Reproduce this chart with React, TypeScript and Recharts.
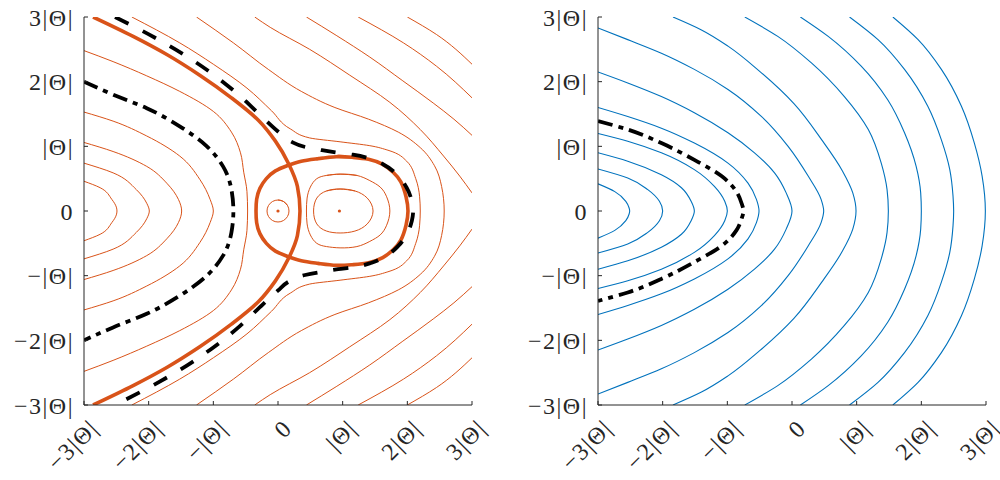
import React from 'react';
import { LineChart, Line, XAxis, YAxis, ReferenceDot } from 'recharts';

type Pt = [number, number];

const ORANGE = '#D95319';
const BLUE = '#0072BD';
const AXIS = '#262626';
const FONT = '"Liberation Serif", serif';

const tickValues = [-3, -2, -1, 0, 1, 2, 3];
const tickLabels = ['−3|Θ|', '−2|Θ|', '−|Θ|', '0', '|Θ|', '2|Θ|', '3|Θ|'];

// left panel, thin orange contours (units of |Θ|)
const leftC1: Pt[] = [[-3.0, 0.46], [-2.75, 0.36], [-2.57, 0.18], [-2.5, 0.06], [-2.49, 0], [-2.5, -0.06], [-2.57, -0.18], [-2.75, -0.36], [-3.0, -0.46]];
const leftC2: Pt[] = [[-3.0, 0.74], [-2.55, 0.59], [-2.19, 0.33], [-2.03, 0.12], [-1.99, 0], [-2.03, -0.12], [-2.19, -0.33], [-2.55, -0.59], [-3.0, -0.74]];
const leftC3: Pt[] = [[-3.0, 1.06], [-2.55, 0.92], [-2.03, 0.69], [-1.72, 0.43], [-1.54, 0.18], [-1.49, 0], [-1.54, -0.18], [-1.72, -0.43], [-2.03, -0.69], [-2.55, -0.92], [-3.0, -1.06]];
const leftC4: Pt[] = [[-3.0, 1.53], [-2.55, 1.39], [-2.03, 1.16], [-1.52, 0.85], [-1.21, 0.49], [-1.05, 0.18], [-1.0, 0], [-1.05, -0.18], [-1.21, -0.49], [-1.52, -0.85], [-2.03, -1.16], [-2.55, -1.39], [-3.0, -1.53]];
const leftC6: Pt[] = [[-3.0, 2.48], [-2.55, 2.31], [-2.03, 2.09], [-1.52, 1.85], [-1.0, 1.54], [-0.72, 1.22], [-0.58, 0.9], [-0.53, 0.6], [-0.48, 0.3], [-0.47, 0], [-0.48, -0.3], [-0.53, -0.6], [-0.58, -0.9], [-0.72, -1.22], [-1.0, -1.54], [-1.52, -1.85], [-2.03, -2.09], [-2.55, -2.31], [-3.0, -2.48]];
const leftC9: Pt[] = [[-2.26, 3.0], [-1.52, 2.6], [-1.0, 2.27], [-0.48, 1.9], [-0.1, 1.55], [0.19, 1.27], [0.49, 1.13], [0.96, 1.07], [1.42, 1.01], [1.7, 0.94], [1.99, 0.77], [2.13, 0.5], [2.19, 0.22], [2.2, 0], [2.19, -0.22], [2.13, -0.5], [1.99, -0.77], [1.7, -0.94], [1.42, -1.01], [0.96, -1.07], [0.49, -1.13], [0.19, -1.27], [-0.1, -1.55], [-0.48, -1.9], [-1.0, -2.27], [-1.52, -2.6], [-2.26, -3.0]];
const leftC10: Pt[] = [[-1.26, 3.0], [-0.69, 2.6], [-0.15, 2.19], [0.36, 1.85], [0.88, 1.6], [1.4, 1.42], [1.86, 1.22], [2.2, 0.98], [2.42, 0.7], [2.53, 0.38], [2.57, 0], [2.53, -0.38], [2.42, -0.7], [2.2, -0.98], [1.86, -1.22], [1.4, -1.42], [0.88, -1.6], [0.36, -1.85], [-0.15, -2.19], [-0.69, -2.6], [-1.26, -3.0]];
const leftC11Top: Pt[] = [[-0.36, 3.0], [-0.12, 2.84], [0.49, 2.5], [1.11, 2.1], [1.73, 1.68], [2.2, 1.26], [2.56, 0.85], [2.81, 0.54], [3.0, 0.28]];
const leftC11Bottom: Pt[] = [[-0.36, -3.0], [-0.12, -2.84], [0.49, -2.5], [1.11, -2.1], [1.73, -1.68], [2.2, -1.26], [2.56, -0.85], [2.81, -0.54], [3.0, -0.28]];
const leftC12Top: Pt[] = [[0.44, 3.0], [0.91, 2.71], [1.42, 2.38], [1.92, 2.02], [2.4, 1.67], [2.72, 1.42], [3.0, 1.17]];
const leftC12Bottom: Pt[] = [[0.44, -3.0], [0.91, -2.71], [1.42, -2.38], [1.92, -2.02], [2.4, -1.67], [2.72, -1.42], [3.0, -1.17]];
const leftC13Top: Pt[] = [[1.24, 3.0], [1.94, 2.6], [2.45, 2.24], [3.0, 1.75]];
const leftC13Bottom: Pt[] = [[1.24, -3.0], [1.94, -2.6], [2.45, -2.24], [3.0, -1.75]];
const leftC14Top: Pt[] = [[2.0, 3.0], [2.45, 2.73], [3.0, 2.27]];
const leftC14Bottom: Pt[] = [[2.0, -3.0], [2.45, -2.73], [3.0, -2.27]];

// closed orbits (first points repeated at the end so the ring closes smoothly)
const leftSmallCircle: Pt[] = [[0, 0.17], [0.085, 0.147], [0.147, 0.085], [0.17, 0], [0.147, -0.085], [0.085, -0.147], [0, -0.17], [-0.085, -0.147], [-0.147, -0.085], [-0.17, 0], [-0.147, 0.085], [-0.085, 0.147], [0, 0.17], [0.085, 0.147], [0.147, 0.085]];
const leftIslandOuter: Pt[] = [[0.75, 0.55], [0.96, 0.57], [1.22, 0.55], [1.42, 0.47], [1.58, 0.37], [1.68, 0.22], [1.73, 0], [1.68, -0.22], [1.58, -0.37], [1.42, -0.47], [1.22, -0.55], [0.96, -0.57], [0.75, -0.55], [0.6, -0.5], [0.5, -0.37], [0.45, -0.2], [0.44, 0], [0.45, 0.2], [0.5, 0.37], [0.6, 0.5], [0.75, 0.55], [0.96, 0.57], [1.22, 0.55]];
const leftIslandInner: Pt[] = [[0.75, 0.31], [0.96, 0.34], [1.19, 0.31], [1.38, 0.2], [1.47, 0], [1.38, -0.2], [1.19, -0.31], [0.96, -0.34], [0.75, -0.31], [0.6, -0.2], [0.55, 0], [0.6, 0.2], [0.75, 0.31], [0.96, 0.34], [1.19, 0.31]];

// left panel, thick orange separatrices
const leftSeparatrix: Pt[] = [[-2.86, 3.0], [-2.24, 2.7], [-1.72, 2.42], [-1.21, 2.1], [-0.72, 1.75], [-0.3, 1.4], [-0.04, 1.08], [0.17, 0.72], [0.3, 0.38], [0.34, 0], [0.3, -0.38], [0.17, -0.72], [-0.04, -1.08], [-0.3, -1.4], [-0.72, -1.75], [-1.21, -2.1], [-1.72, -2.42], [-2.24, -2.7], [-2.86, -3.0]];
const leftLoop: Pt[] = [[0.62, 0.81], [0.9, 0.84], [1.15, 0.83], [1.4, 0.8], [1.62, 0.72], [1.78, 0.6], [1.9, 0.45], [1.98, 0.22], [2.01, 0], [1.98, -0.22], [1.9, -0.45], [1.78, -0.6], [1.62, -0.72], [1.4, -0.8], [1.15, -0.83], [0.9, -0.84], [0.62, -0.81], [0.36, -0.77], [0.14, -0.7], [-0.04, -0.62], [-0.18, -0.5], [-0.28, -0.35], [-0.33, -0.18], [-0.34, 0], [-0.33, 0.18], [-0.28, 0.35], [-0.18, 0.5], [-0.04, 0.62], [0.14, 0.7], [0.36, 0.77], [0.62, 0.81], [0.9, 0.84], [1.15, 0.83]];

// left panel, black reference curves
const leftDashed: Pt[] = [[-2.52, 3.0], [-1.85, 2.65], [-1.41, 2.39], [-1.0, 2.11], [-0.59, 1.78], [-0.23, 1.44], [0.0, 1.23], [0.19, 1.08], [0.42, 0.99], [0.68, 0.94], [0.93, 0.9], [1.16, 0.87], [1.45, 0.8], [1.63, 0.72], [1.86, 0.54], [1.99, 0.36], [2.07, 0.15], [2.09, 0], [2.07, -0.15], [1.99, -0.36], [1.86, -0.54], [1.63, -0.72], [1.45, -0.8], [1.16, -0.87], [0.93, -0.9], [0.68, -0.94], [0.42, -0.99], [0.19, -1.08], [0.0, -1.23], [-0.23, -1.44], [-0.59, -1.78], [-1.0, -2.11], [-1.41, -2.39], [-1.85, -2.65], [-2.52, -3.0]];
const leftDashDot: Pt[] = [[-3.0, 2.0], [-2.55, 1.8], [-2.03, 1.59], [-1.52, 1.31], [-1.1, 1.0], [-0.85, 0.69], [-0.72, 0.33], [-0.69, 0], [-0.72, -0.33], [-0.85, -0.69], [-1.1, -1.0], [-1.52, -1.31], [-2.03, -1.59], [-2.55, -1.8], [-3.0, -2.0]];

const leftCenters: Pt[] = [[0, 0], [0.95, 0]];

// right panel, blue contours
const rightB1: Pt[] = [[-3.0, 0.42], [-2.74, 0.3], [-2.57, 0.15], [-2.52, 0.05], [-2.51, 0], [-2.52, -0.05], [-2.57, -0.15], [-2.74, -0.3], [-3.0, -0.42]];
const rightB2: Pt[] = [[-3.0, 0.65], [-2.54, 0.51], [-2.23, 0.33], [-2.05, 0.15], [-2.0, 0], [-2.05, -0.15], [-2.23, -0.33], [-2.54, -0.51], [-3.0, -0.65]];
const rightB3: Pt[] = [[-3.0, 0.9], [-2.54, 0.77], [-2.02, 0.56], [-1.71, 0.36], [-1.56, 0.15], [-1.51, 0], [-1.56, -0.15], [-1.71, -0.36], [-2.02, -0.56], [-2.54, -0.77], [-3.0, -0.9]];
const rightB4: Pt[] = [[-3.0, 1.2], [-2.54, 1.08], [-2.02, 0.9], [-1.51, 0.64], [-1.2, 0.38], [-1.04, 0.15], [-1.0, 0], [-1.04, -0.15], [-1.2, -0.38], [-1.51, -0.64], [-2.02, -0.9], [-2.54, -1.08], [-3.0, -1.2]];
const rightB6: Pt[] = [[-3.0, 1.6], [-2.54, 1.46], [-2.02, 1.28], [-1.51, 1.05], [-0.99, 0.74], [-0.68, 0.43], [-0.55, 0.18], [-0.51, 0], [-0.55, -0.18], [-0.68, -0.43], [-0.99, -0.74], [-1.51, -1.05], [-2.02, -1.28], [-2.54, -1.46], [-3.0, -1.6]];
const rightB7: Pt[] = [[-3.0, 2.15], [-2.54, 1.98], [-2.02, 1.77], [-1.51, 1.52], [-0.99, 1.21], [-0.58, 0.9], [-0.27, 0.59], [-0.09, 0.28], [0, 0], [-0.09, -0.28], [-0.27, -0.59], [-0.58, -0.9], [-0.99, -1.21], [-1.51, -1.52], [-2.02, -1.77], [-2.54, -1.98], [-3.0, -2.15]];
const rightB8: Pt[] = [[-3.0, 2.83], [-2.54, 2.65], [-2.02, 2.44], [-1.51, 2.19], [-0.99, 1.88], [-0.47, 1.46], [-0.06, 1.0], [0.25, 0.54], [0.45, 0.18], [0.49, 0], [0.45, -0.18], [0.25, -0.54], [-0.06, -1.0], [-0.47, -1.46], [-0.99, -1.88], [-1.51, -2.19], [-2.02, -2.44], [-2.54, -2.65], [-3.0, -2.83]];
const rightB9: Pt[] = [[-1.84, 3.0], [-1.4, 2.8], [-0.99, 2.55], [-0.5, 2.16], [0.03, 1.66], [0.46, 1.1], [0.78, 0.62], [0.94, 0.28], [0.99, 0], [0.94, -0.28], [0.78, -0.62], [0.46, -1.1], [0.03, -1.66], [-0.5, -2.16], [-0.99, -2.55], [-1.4, -2.8], [-1.84, -3.0]];
const rightB10: Pt[] = [[-0.73, 3.0], [-0.22, 2.7], [0.3, 2.29], [0.81, 1.77], [1.18, 1.26], [1.38, 0.74], [1.47, 0.33], [1.49, 0], [1.47, -0.33], [1.38, -0.74], [1.18, -1.26], [0.81, -1.77], [0.3, -2.29], [-0.22, -2.7], [-0.73, -3.0]];
const rightB11: Pt[] = [[0.13, 3.0], [0.56, 2.7], [1.07, 2.24], [1.48, 1.72], [1.74, 1.21], [1.92, 0.69], [1.99, 0.28], [2.0, 0], [1.99, -0.28], [1.92, -0.69], [1.74, -1.21], [1.48, -1.72], [1.07, -2.24], [0.56, -2.7], [0.13, -3.0]];
const rightB12: Pt[] = [[0.89, 3.0], [1.33, 2.65], [1.74, 2.19], [2.1, 1.62], [2.31, 1.1], [2.44, 0.64], [2.49, 0.23], [2.5, 0], [2.49, -0.23], [2.44, -0.64], [2.31, -1.1], [2.1, -1.62], [1.74, -2.19], [1.33, -2.65], [0.89, -3.0]];
const rightB13: Pt[] = [[1.56, 3.0], [1.95, 2.65], [2.31, 2.19], [2.62, 1.62], [2.82, 1.05], [2.94, 0.54], [2.99, 0], [2.94, -0.54], [2.82, -1.05], [2.62, -1.62], [2.31, -2.19], [1.95, -2.65], [1.56, -3.0]];
const rightDashDot: Pt[] = [[-3.0, 1.39], [-2.54, 1.26], [-2.02, 1.05], [-1.51, 0.79], [-1.09, 0.54], [-0.86, 0.3], [-0.78, 0.12], [-0.75, 0], [-0.78, -0.12], [-0.86, -0.3], [-1.09, -0.54], [-1.51, -0.79], [-2.02, -1.05], [-2.54, -1.26], [-3.0, -1.39]];

type CurveKind = 'monotoneY' | 'natural';

interface Curve {
  pts: Pt[];
  color: string;
  width: number;
  dash?: string;
  kind: CurveKind;
}

const thinOrange = (pts: Pt[]): Curve => ({ pts, color: ORANGE, width: 1, kind: 'monotoneY' });
const ring = (pts: Pt[]): Curve => ({ pts, color: ORANGE, width: 1, kind: 'natural' });
const thinBlue = (pts: Pt[]): Curve => ({ pts, color: BLUE, width: 1.1, kind: 'monotoneY' });

const leftCurves: Curve[] = [
  ...[leftC1, leftC2, leftC3, leftC4, leftC6, leftC9, leftC10, leftC11Top, leftC11Bottom, leftC12Top, leftC12Bottom, leftC13Top, leftC13Bottom, leftC14Top, leftC14Bottom].map(thinOrange),
  ...[leftSmallCircle, leftIslandOuter, leftIslandInner].map(ring),
  { pts: leftSeparatrix, color: ORANGE, width: 3.6, kind: 'monotoneY' },
  { pts: leftLoop, color: ORANGE, width: 3.6, kind: 'natural' },
  { pts: leftDashed, color: '#000', width: 3.8, dash: '15 16', kind: 'monotoneY' },
  { pts: leftDashDot, color: '#000', width: 3.8, dash: '15 6 5 6', kind: 'monotoneY' },
];

const rightCurves: Curve[] = [
  ...[rightB1, rightB2, rightB3, rightB4, rightB6, rightB7, rightB8, rightB9, rightB10, rightB11, rightB12, rightB13].map(thinBlue),
  { pts: rightDashDot, color: '#000', width: 3.8, dash: '15 6 5 6', kind: 'monotoneY' },
];

const toRows = (pts: Pt[]) => pts.map(([x, y]) => ({ x, y }));
const labelFor = (v: number) => tickLabels[tickValues.indexOf(v)] ?? '';

// x labels: drawn by hand, rotated like the original
const XTick = (props: any) => {
  const { x, y, payload } = props;
  const tx = x + 10;
  const ty = y + 19;
  return (
    <g>
      <line x1={x} x2={x} y1={y} y2={y - 4} stroke={AXIS} strokeWidth={1} />
      <text
        x={tx}
        y={ty}
        textAnchor="end"
        dominantBaseline="central"
        transform={`rotate(-45 ${tx} ${ty})`}
        fill={AXIS}
        fontFamily={FONT}
        fontSize={24}
        letterSpacing={1.5}
      >
        {labelFor(payload.value)}
      </text>
    </g>
  );
};

const Panel: React.FC<{ curves: Curve[]; dots?: Pt[]; left: number }> = ({ curves, dots = [], left }) => (
  <div style={{ position: 'absolute', left, top: 0 }}>
    <LineChart width={500} height={480} margin={{ top: 17, right: 28, bottom: 35, left: 24 }}>
      <XAxis
        dataKey="x"
        type="number"
        domain={[-3, 3]}
        ticks={tickValues}
        interval={0}
        allowDataOverflow
        height={40}
        tickSize={0}
        tickMargin={0}
        tickLine={false}
        axisLine={{ stroke: AXIS, strokeWidth: 1 }}
        tick={XTick}
      />
      <YAxis
        dataKey="y"
        type="number"
        domain={[-3, 3]}
        ticks={tickValues}
        interval={0}
        allowDataOverflow
        width={60}
        tickSize={-4}
        tickMargin={14}
        tickLine={{ stroke: AXIS, strokeWidth: 1 }}
        axisLine={{ stroke: AXIS, strokeWidth: 1 }}
        tickFormatter={labelFor}
        tick={{ fill: AXIS, fontSize: 24, fontFamily: FONT, letterSpacing: 1.5 }}
      />
      {curves.map((c, i) => (
        <Line
          key={i}
          data={toRows(c.pts)}
          dataKey="y"
          type={c.kind}
          stroke={c.color}
          strokeWidth={c.width}
          strokeDasharray={c.dash}
          strokeLinejoin="round"
          dot={false}
          activeDot={false}
          isAnimationActive={false}
        />
      ))}
      {dots.map(([x, y], i) => (
        <ReferenceDot key={`d${i}`} x={x} y={y} r={1.6} fill={ORANGE} stroke="none" />
      ))}
    </LineChart>
  </div>
);

export default function App() {
  return (
    <div style={{ position: 'absolute', left: 0, top: 0, width: 1000, height: 480, background: '#fff' }}>
      <Panel curves={leftCurves} dots={leftCenters} left={0} />
      <Panel curves={rightCurves} left={514} />
    </div>
  );
}
